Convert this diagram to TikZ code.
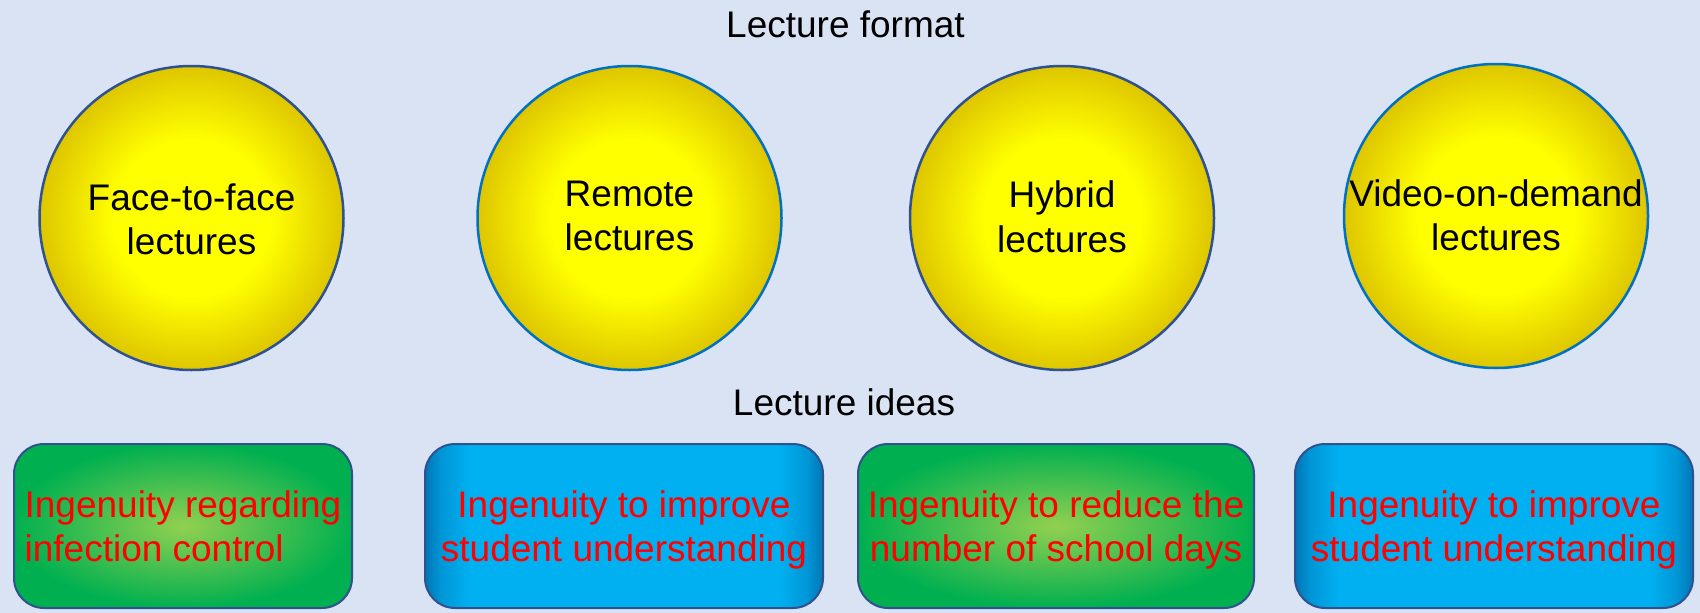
\documentclass[tikz,border=0pt]{standalone}
\usepackage{fontspec}
\setmainfont{Liberation Sans}

\definecolor{bg}{RGB}{218,227,243}
\definecolor{ballin}{RGB}{255,255,0}
\definecolor{ballout}{RGB}{222,198,0}
\definecolor{navy}{RGB}{47,82,143}
\definecolor{azure}{RGB}{0,112,192}
\definecolor{greenin}{RGB}{146,208,80}
\definecolor{greenout}{RGB}{0,176,80}
\definecolor{bluein}{RGB}{0,176,240}
\definecolor{blueedge}{RGB}{0,150,215}
\definecolor{blueout}{RGB}{0,118,180}
\definecolor{ideared}{RGB}{255,0,0}

\pgfdeclareradialshading{ballshade}{\pgfpoint{0bp}{0bp}}{%
  color(0bp)=(ballin); color(13bp)=(ballin); color(25bp)=(ballout); color(50bp)=(ballout)}
\pgfdeclareradialshading{greenshade}{\pgfpoint{0bp}{0bp}}{%
  color(0bp)=(greenin); color(25bp)=(greenout); color(50bp)=(greenout)}
\pgfdeclarehorizontalshading{blueshade}{100bp}{%
  color(0bp)=(blueout); color(25bp)=(blueout); color(27bp)=(blueedge);
  color(30.5bp)=(bluein); color(69.5bp)=(bluein); color(73bp)=(blueedge);
  color(75bp)=(blueout); color(100bp)=(blueout)}

% struts that fix the vertical extent of a two-line label:
% \firstline{h} opens the first line (height h+12pt), \lastline closes the last one
\newcommand{\firstline}[1]{\rule{0pt}{\dimexpr #1+12pt\relax}}
\newcommand{\lastline}{\rule[-12pt]{0pt}{0pt}}

\tikzset{
  bigtext/.style={font=\fontsize{37}{44.5}\selectfont},
  ball/.style={circle, minimum size=304pt, inner sep=-20pt, shading=ballshade,
    line width=2.5pt, bigtext, align=center, text=black},
  idea/.style={rectangle, rounded corners=30pt, minimum height=164pt,
    inner sep=0pt, draw=navy, line width=2pt, bigtext, text=ideared, align=center},
  greenidea/.style={idea, shading=greenshade},
  blueidea/.style={idea, shading=blueshade},
  heading/.style={bigtext, text=black, inner sep=0pt}
}

\begin{document}
\begin{tikzpicture}[x=1pt, y=-1pt]
\useasboundingbox[fill=bg] (0,0) rectangle (1700,613);

% headings
\node[heading] (fmt) at (845.5,24) {Lecture format};
\node[heading] (ideas) at (844,402) {Lecture ideas};

% lecture formats
\node[ball, draw=navy]  (f2f)    at (191.5,218)
  {\firstline{28.5pt}Face-to-face\\lectures\lastline};
\node[ball, draw=azure] (remote) at (629.5,218)
  {\firstline{20.5pt}Remote\\lectures\lastline};
\node[ball, draw=navy]  (hybrid) at (1062,218)
  {\firstline{24pt}Hybrid\\lectures\lastline};
\node[ball, draw=azure] (vod)    at (1496,216)
  {\firstline{24.5pt}Video-on-demand\\lectures\lastline};

% lecture ideas
\node[greenidea, minimum width=338pt, align=left] (infect) at (183,526)
  {\firstline{26.5pt}Ingenuity regarding\\infection control\lastline};
\node[blueidea, minimum width=398pt] (underA) at (624,526)
  {\firstline{26.5pt}Ingenuity to improve\\student understanding\lastline};
\node[greenidea, minimum width=396pt] (days) at (1056,526)
  {\firstline{26.5pt}Ingenuity to reduce the\\number of school days\lastline};
\node[blueidea, minimum width=398pt] (underB) at (1494,526)
  {\firstline{26.5pt}Ingenuity to improve\\student understanding\lastline};
\end{tikzpicture}
\end{document}
